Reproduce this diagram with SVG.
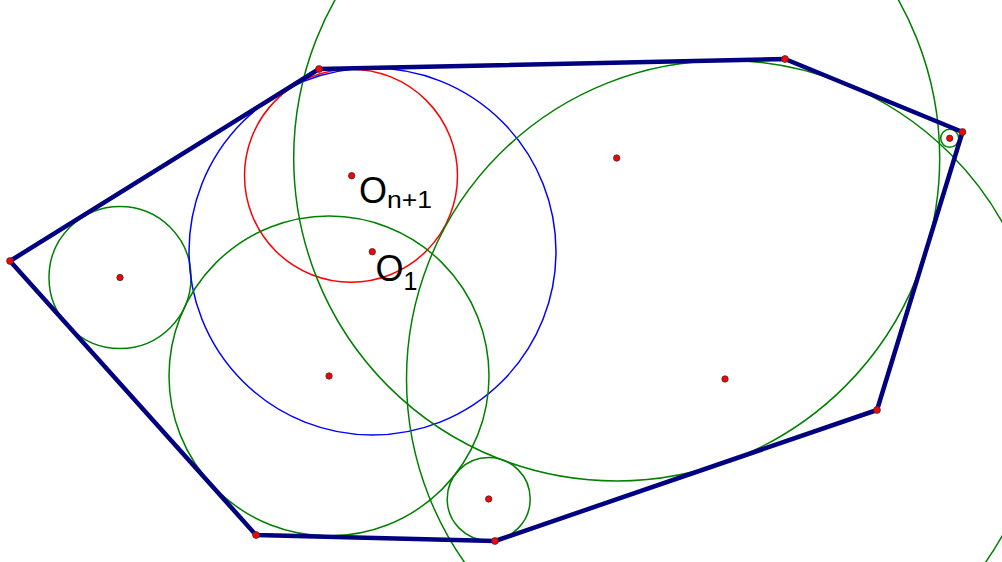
<svg xmlns="http://www.w3.org/2000/svg" width="1002" height="562" viewBox="0 0 1002 562">
  <style>
    .c { fill: none; stroke-width: 1.5; }
    .g { stroke: #008000; }
    .r { stroke: #ff0000; }
    .b { stroke: #0000ff; }
    .poly { fill: none; stroke: #000080; stroke-width: 4.5; stroke-linejoin: round; stroke-linecap: round; }
    .pt { fill: #ff0000; stroke: #333333; stroke-width: 0.8; }
    .lbl { font-family: "Liberation Sans", Arial, sans-serif; fill: #000000; }
  </style>
  <rect width="1002" height="562" fill="#ffffff"/>
  <g id="circles">
    <circle class="c g" cx="120" cy="277.5" r="71"/>
    <circle class="c r" cx="351" cy="175.7" r="106.5"/>
    <circle class="c b" cx="372.5" cy="251.5" r="183.5"/>
    <circle class="c g" cx="329" cy="376" r="160"/>
    <circle class="c g" cx="488.7" cy="499" r="41.5"/>
    <circle class="c g" cx="616.7" cy="158" r="323"/>
    <circle class="c g" cx="725" cy="379" r="318.5"/>
    <circle class="c g" cx="949.7" cy="138.3" r="9"/>
  </g>
  <g id="polygon">
    <polygon class="poly" points="10,261 319,69 785,59 962.5,132 877,410 495,541 256,535"/>
  </g>
  <g id="points">
    <circle class="pt" cx="10" cy="261" r="3.4"/>
    <circle class="pt" cx="319" cy="69" r="3.4"/>
    <circle class="pt" cx="785" cy="59" r="3.4"/>
    <circle class="pt" cx="962.5" cy="132" r="3.4"/>
    <circle class="pt" cx="877" cy="410" r="3.4"/>
    <circle class="pt" cx="495" cy="541" r="3.4"/>
    <circle class="pt" cx="256" cy="535" r="3.4"/>
    <circle class="pt" cx="120" cy="277.5" r="3.2"/>
    <circle class="pt" cx="351.7" cy="175.7" r="3.2"/>
    <circle class="pt" cx="372.3" cy="251.7" r="3.2"/>
    <circle class="pt" cx="329" cy="376" r="3.2"/>
    <circle class="pt" cx="616.7" cy="158" r="3.2"/>
    <circle class="pt" cx="725" cy="379" r="3.2"/>
    <circle class="pt" cx="488.7" cy="499" r="3.2"/>
    <circle class="pt" cx="949.7" cy="138.3" r="3.2"/>
  </g>
  <g id="labels">
    <text class="lbl" x="359" y="202.5" font-size="36">O<tspan font-size="23" x="387" y="207.5" textLength="45" lengthAdjust="spacingAndGlyphs">n+1</tspan></text>
    <text class="lbl" x="375.5" y="280.5" font-size="36">O<tspan font-size="25" x="403.5" y="289.5">1</tspan></text>
  </g>
</svg>
